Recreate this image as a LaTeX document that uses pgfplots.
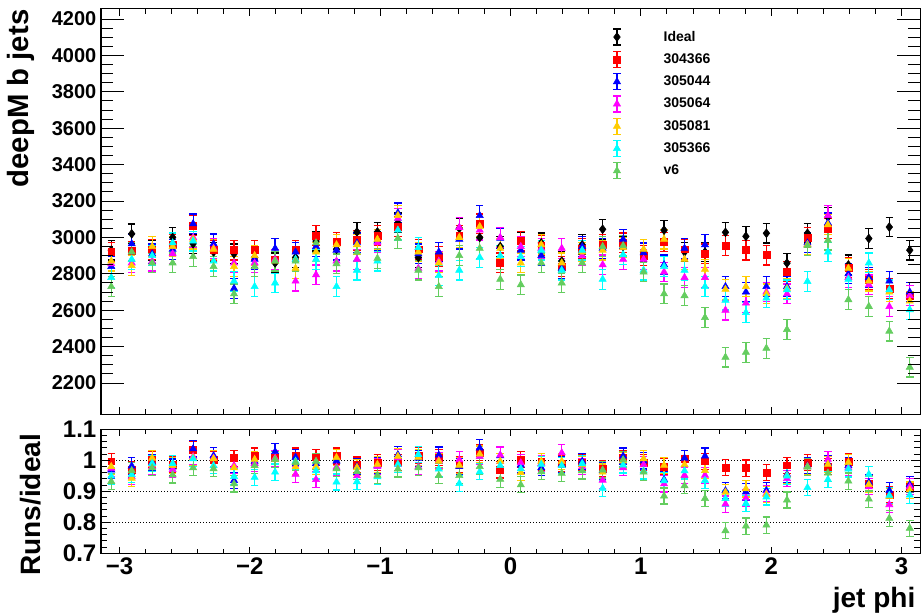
\documentclass[border=0pt]{standalone}
\usepackage{fontspec}
\setmainfont{Liberation Sans}
\usepackage{pgfplots}
\usepackage{pgfplotstable}
\pgfplotsset{compat=1.18}

\definecolor{runred}{RGB}{255,0,0}
\definecolor{runblue}{RGB}{0,0,255}
\definecolor{runmag}{RGB}{255,0,255}
\definecolor{runyel}{RGB}{255,204,0}
\definecolor{runcyan}{RGB}{0,255,255}
\definecolor{runv6}{RGB}{100,205,95}

% jet phi bin centres, counts per sample
\pgfplotstableread{
x I R B M Y C G
-3.063 2930 2920 2840 2855 2870 2780 2730
-2.906 3020 2925 2965 2860 2845 2880 2920
-2.749 2930 2935 2910 2870 2950 2900 2860
-2.592 3000 2960 2935 2910 2950 2970 2860
-2.435 2965 3065 3075 3000 2990 2980 2895
-2.278 2920 2930 2965 2940 2935 2870 2840
-2.121 2910 2930 2720 2860 2840 2760 2690
-1.963 2890 2930 2880 2860 2900 2730 2840
-1.806 2860 2880 2940 2880 2870 2750 2870
-1.649 2890 2930 2920 2760 2830 2880 2870
-1.492 2980 3010 2950 2795 2920 2880 2970
-1.335 2935 2975 2930 2870 2960 2730 2855
-1.178 3030 2985 2970 2880 2960 2820 2920
-1.021 3030 3010 2980 2970 2990 2870 2885
-0.864 3080 3060 3135 3105 3120 3040 2995
-0.707 2890 2935 2910 2830 2920 2945 2820
-0.550 2870 2895 2920 2870 2860 2790 2730
-0.393 3050 3010 2990 3055 3000 2820 2900
-0.236 3000 3075 3120 3040 3060 2890 2940
-0.079 2950 2860 2995 3000 2940 2900 2770
0.079 2975 2980 2930 2950 2860 2895 2740
0.236 2970 2955 2900 2940 2960 2930 2860
0.393 2870 2840 2830 2940 2860 2820 2750
0.550 2960 2940 2950 2900 2920 2930 2860
0.707 3045 2960 2940 2850 2930 2770 2950
0.864 2950 2970 2990 2880 2945 2905 2955
1.021 2920 2900 2915 2880 2935 2820 2810
1.178 3040 2975 2850 2810 2990 2840 2690
1.335 2920 2935 2940 2780 2880 2820 2680
1.492 2920 2910 2960 2780 2825 2730 2560
1.649 3028 2955 2730 2600 2715 2655 2342
1.806 3006 2930 2700 2640 2730 2587 2369
1.963 3023 2903 2730 2700 2690 2667 2391
2.121 2859 2812 2730 2690 2720 2712 2494
2.278 3023 3000 2970 2960 2960 2758 2955
2.435 3112 3050 3080 3120 3070 2920 2985
2.592 2849 2835 2800 2780 2830 2770 2658
2.749 2994 2770 2780 2740 2760 2860 2621
2.906 3057 2720 2760 2620 2700 2712 2485
3.063 2930 2680 2700 2680 2650 2603 2287
}\counts

% runs divided by the ideal sample
\pgfplotstableread{
x R B M Y C G
-3.063 0.997 0.969 0.974 0.980 0.949 0.932
-2.906 0.969 0.982 0.947 0.942 0.954 0.967
-2.749 1.002 0.993 0.980 1.007 0.990 0.976
-2.592 0.987 0.978 0.970 0.983 0.990 0.953
-2.435 1.034 1.037 1.012 1.008 1.005 0.976
-2.278 1.003 1.015 1.007 1.005 0.983 0.973
-2.121 1.007 0.935 0.983 0.976 0.948 0.924
-1.963 1.014 0.997 0.990 1.003 0.945 0.983
-1.806 1.007 1.028 1.007 1.003 0.962 1.003
-1.649 1.014 1.010 0.955 0.979 0.997 0.993
-1.492 1.010 0.990 0.938 0.980 0.966 0.997
-1.335 1.014 0.998 0.978 1.009 0.930 0.973
-1.178 0.985 0.980 0.950 0.977 0.931 0.964
-1.021 0.993 0.983 0.980 0.987 0.947 0.952
-0.864 0.994 1.018 1.008 1.013 0.987 0.972
-0.707 1.016 1.007 0.979 1.010 1.019 0.976
-0.550 1.009 1.017 1.000 0.997 0.972 0.951
-0.393 0.987 0.980 1.002 0.984 0.925 0.951
-0.236 1.025 1.040 1.013 1.020 0.963 0.980
-0.079 0.969 1.015 1.017 0.997 0.983 0.939
0.079 1.002 0.985 0.992 0.961 0.973 0.921
0.236 0.995 0.976 0.990 0.997 0.987 0.963
0.393 0.990 0.986 1.024 0.997 0.983 0.958
0.550 0.993 0.997 0.980 0.986 0.990 0.966
0.707 0.972 0.966 0.936 0.962 0.910 0.969
0.864 1.007 1.014 0.976 0.998 0.985 1.002
1.021 0.993 0.998 0.986 1.005 0.966 0.962
1.178 0.979 0.938 0.924 0.984 0.934 0.885
1.335 1.005 1.007 0.952 0.986 0.966 0.918
1.492 0.997 1.014 0.952 0.967 0.935 0.877
1.649 0.976 0.902 0.859 0.897 0.877 0.773
1.806 0.975 0.898 0.878 0.908 0.861 0.788
1.963 0.960 0.903 0.893 0.890 0.882 0.791
2.121 0.984 0.955 0.941 0.951 0.949 0.872
2.278 0.992 0.982 0.979 0.979 0.912 0.978
2.435 0.980 0.990 1.003 0.987 0.938 0.959
2.592 0.995 0.983 0.976 0.993 0.972 0.933
2.749 0.925 0.929 0.915 0.922 0.955 0.875
2.906 0.890 0.903 0.857 0.883 0.887 0.813
3.063 0.915 0.922 0.915 0.904 0.888 0.781
}\ratios

\pgfplotsset{
  every axis/.append style={
    scale only axis, width=614.25pt,
    xmin=-3.14159, xmax=3.14159,
    axis line style={line width=0.75pt},
    every tick/.style={black, line width=0.75pt},
    tick align=inside,
    tick label style={font=\bfseries},
  },
  % x ticks of a panel (short)
  xframe/.style={xtick={-3,-2,-1,0,1,2,3}, minor x tick num=4, ytick=\empty,
    major tick length=5pt, minor tick length=3.5pt},
  % y ticks of a panel (drawn by a second axis with longer ticks)
  yframe/.style={xtick=\empty},
  pts/.style 2 args={only marks, color=#1, mark options={solid, fill=#1, draw=#1},
    error bars/y dir=both, error bars/y fixed=#2,
    error bars/error bar style={draw=#1, line width=0.9pt, solid},
    error bars/error mark options={draw=#1, rotate=90, mark size=2.8pt, line width=0.9pt}},
  legend image code/.code={
    \path[draw=none, fill=none] (0pt,-6pt) rectangle (42pt,6pt);
    \draw[mark=none, line width=0.9pt] (9pt,-6pt) -- (9pt,6pt);
    \draw[mark=none, line width=0.9pt] (6.2pt,-6pt) -- (11.8pt,-6pt);
    \draw[mark=none, line width=0.9pt] (6.2pt,6pt) -- (11.8pt,6pt);
    \draw plot coordinates {(9pt,0pt)};
  },
}

\begin{document}
\begin{tikzpicture}
\useasboundingbox (-75.75pt,-150pt) rectangle (616.5pt,310.5pt);

% ---------- upper panel: counts ----------
\begin{axis}[
  xframe, xticklabels={},
  at={(0pt,0pt)}, anchor=south west, height=303.75pt,
  ymin=2030, ymax=4255,
  legend style={at={(0.615,0.953)}, anchor=north west, draw=none, fill=none,
    font=\bfseries\fontsize{10.5}{12}\selectfont, row sep=3.8pt, inner sep=0pt},
  legend cell align=left,
]
\addplot[pts={black}{54}, mark=diamond*, mark size=3.3pt] table[x=x, y=I] {\counts};
\addlegendentry{Ideal}
\addplot[pts={runred}{54}, mark=square*, mark size=2.6pt] table[x=x, y=R] {\counts};
\addlegendentry{304366}
\addplot[pts={runblue}{54}, mark=triangle*, mark size=3.1pt] table[x=x, y=B] {\counts};
\addlegendentry{305044}
\addplot[pts={runmag}{54}, mark=triangle*, mark size=3.1pt] table[x=x, y=M] {\counts};
\addlegendentry{305064}
\addplot[pts={runyel}{54}, mark=triangle*, mark size=3.1pt] table[x=x, y=Y] {\counts};
\addlegendentry{305081}
\addplot[pts={runcyan}{54}, mark=triangle*, mark size=3.1pt] table[x=x, y=C] {\counts};
\addlegendentry{305366}
\addplot[pts={runv6}{54}, mark=triangle*, mark size=3.1pt] table[x=x, y=G] {\counts};
\addlegendentry{v6}
\end{axis}
\begin{axis}[
  yframe,
  at={(0pt,0pt)}, anchor=south west, height=303.75pt,
  ymin=2030, ymax=4255,
  ytick={2200,2400,2600,2800,3000,3200,3400,3600,3800,4000,4200},
  yticklabels={2200,2400,2600,2800,3000,3200,3400,3600,3800,4000,4200},
  minor y tick num=3, major tick length=17pt, minor tick length=9pt,
  yticklabel style={font=\bfseries\fontsize{15}{15}\selectfont},
  ylabel={deepM b jets},
  ylabel style={font=\bfseries\fontsize{22}{22}\selectfont, at={(axis description cs:-0.0977,1.01)}, anchor=east},
]
\end{axis}

% ---------- lower panel: ratios ----------
\begin{axis}[
  xframe,
  at={(0pt,-11.5pt)}, anchor=north west, height=93pt,
  ymin=0.7, ymax=1.1,
  xticklabels={−3,−2,−1,0,1,2,3},
  xticklabel style={font=\bfseries\fontsize{18}{18}\selectfont},
  xlabel={jet phi},
  xlabel style={font=\bfseries\fontsize{21}{21}\selectfont, at={(axis description cs:1,-0.433)}, anchor=base east},
]
\addplot[black, line width=0.75pt, dash pattern=on 0.75pt off 1.5pt] coordinates {(-3.14159,1) (3.14159,1)};
\addplot[black, line width=0.75pt, dash pattern=on 0.75pt off 1.5pt] coordinates {(-3.14159,0.9) (3.14159,0.9)};
\addplot[black, line width=0.75pt, dash pattern=on 0.75pt off 1.5pt] coordinates {(-3.14159,0.8) (3.14159,0.8)};
\addplot[pts={runred}{0.026}, mark=square*, mark size=2.6pt] table[x=x, y=R] {\ratios};
\addplot[pts={runblue}{0.026}, mark=triangle*, mark size=3.1pt] table[x=x, y=B] {\ratios};
\addplot[pts={runmag}{0.026}, mark=triangle*, mark size=3.1pt] table[x=x, y=M] {\ratios};
\addplot[pts={runyel}{0.026}, mark=triangle*, mark size=3.1pt] table[x=x, y=Y] {\ratios};
\addplot[pts={runcyan}{0.026}, mark=triangle*, mark size=3.1pt] table[x=x, y=C] {\ratios};
\addplot[pts={runv6}{0.026}, mark=triangle*, mark size=3.1pt] table[x=x, y=G] {\ratios};
\end{axis}
\begin{axis}[
  yframe,
  at={(0pt,-11.5pt)}, anchor=north west, height=93pt,
  ymin=0.7, ymax=1.1,
  ytick={0.7,0.8,0.9,1,1.1},
  yticklabels={0.7,0.8,0.9,1,1.1},
  minor y tick num=4, major tick length=7pt, minor tick length=4.5pt,
  yticklabel style={font=\bfseries\fontsize{18}{18}\selectfont},
  ylabel={Runs/ideal},
  ylabel style={font=\bfseries\fontsize{21}{21}\selectfont, at={(axis description cs:-0.0855,1.0)}, anchor=east},
]
\end{axis}
\end{tikzpicture}
\end{document}
